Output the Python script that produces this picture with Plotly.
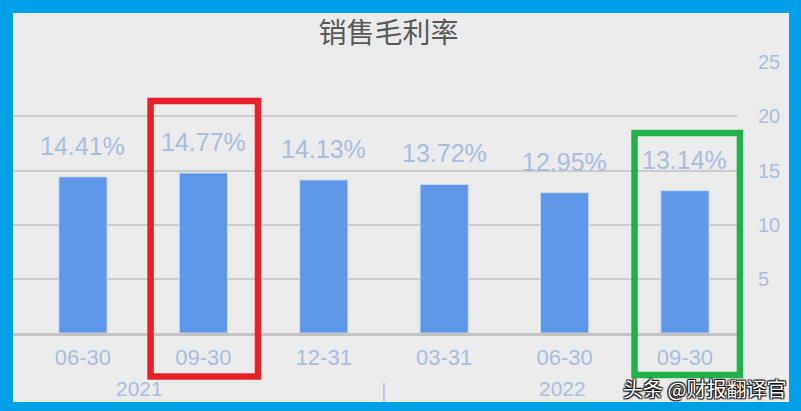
import plotly.graph_objects as go

# data
periods = ['06-30', '09-30', '12-31', '03-31', '06-30', '09-30']
years = ['2021', '2022']
margin_pct = [14.41, 14.77, 14.13, 13.72, 12.95, 13.14]
ytick_vals = [5, 10, 15, 20, 25]

label_col = '#A9BDDD'
bar_col = '#5E97E8'

x_idx = list(range(len(periods)))

fig = go.Figure(go.Bar(
    x=x_idx,
    y=margin_pct,
    width=0.4,
    marker=dict(color=bar_col, line=dict(color='#C4DAF4', width=1)),
    hoverinfo='skip',
))

# value labels above each bar
for i, v in zip(x_idx, margin_pct):
    fig.add_annotation(
        x=i, y=v, xref='x', yref='y',
        text='%.2f%%' % v, showarrow=False,
        yanchor='middle', yshift=31,
        font=dict(family='Liberation Sans', size=25, color=label_col),
    )

# year group labels under the periods
for yr, xpos in zip(years, [0.47, 3.98]):
    fig.add_annotation(
        x=xpos, y=-0.203, xref='x', yref='paper',
        text=yr, showarrow=False, yanchor='middle',
        font=dict(family='Liberation Sans', size=21, color=label_col),
    )

# gray panel inside the blue frame
fig.add_shape(type='rect', xref='paper', yref='paper',
              x0=0, x1=1.0718, y0=-0.2546, y1=1.1808,
              fillcolor='#EBEBEB', line_width=0, layer='below')

# group separator tick
fig.add_shape(type='line', xref='x', yref='paper',
              x0=2.5, x1=2.5, y0=-0.1845, y1=-0.2546,
              line=dict(color=label_col, width=1.5))

# highlight boxes
fig.add_shape(type='rect', xref='paper', yref='paper',
              x0=0.1900, x1=0.3384, y0=-0.1605, y1=0.856,
              line=dict(color='#E8202A', width=6.5))
fig.add_shape(type='rect', xref='paper', yref='paper',
              x0=0.8585, x1=1.0041, y0=-0.155, y1=0.738,
              line=dict(color='#22B04A', width=6.5))

# watermark
fig.add_annotation(
    x=1.0704, y=-0.203, xref='paper', yref='paper',
    text='头条 @财报翻译官', showarrow=False,
    xanchor='right', yanchor='middle',
    font=dict(family='Noto Sans CJK SC', size=20, color='white',
              shadow='1px 1px 1px #111, -1px -1px 1px #111, 1px -1px 1px #111, -1px 1px 1px #111'),
)

fig.update_layout(
    width=801, height=411,
    margin=dict(l=13, r=64, t=62, b=78),
    paper_bgcolor='#00A0E9',
    plot_bgcolor='rgba(0,0,0,0)',
    showlegend=False,
    title=dict(
        text='销售毛利率', x=0.485, xanchor='center',
        y=1 - 33 / 411, yanchor='middle',
        font=dict(family='Noto Sans CJK SC', size=28, color='#595959'),
    ),
    xaxis=dict(
        range=[-0.581, 5.432],
        tickmode='array', tickvals=x_idx, ticktext=periods,
        showgrid=False, zeroline=False,
        showline=True, linecolor='#C4C4C4', linewidth=3,
        ticks='', ticklabelstandoff=3,
        tickfont=dict(family='Liberation Sans', size=22, color=label_col),
    ),
    yaxis=dict(
        range=[0, 25.02], side='right',
        tickmode='array', tickvals=ytick_vals,
        showgrid=True, gridcolor='#CBCBCB', gridwidth=1.5,
        zeroline=False, showline=False, ticks='',
        ticklabelstandoff=20,
        tickfont=dict(family='Liberation Sans', size=20, color=label_col),
    ),
)

# drop the page's default body margin so the figure sits at the window corner
fig.write_html('out.html', config={'displayModeBar': False},
               post_script="document.body.style.margin='0';")
